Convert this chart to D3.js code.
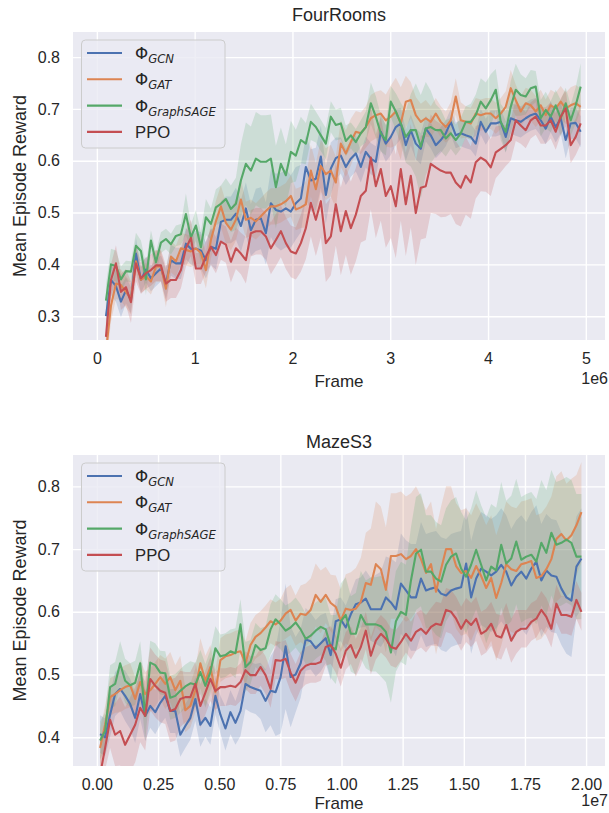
<!DOCTYPE html>
<html>
<head>
<meta charset="utf-8">
<script src="https://cdn.jsdelivr.net/npm/d3@7"></script>
<style>
body { margin: 0; background: #fff; }
svg { display: block; font-family: "Liberation Sans", Arial, sans-serif; }
</style>
</head>
<body>
<svg id="chart" width="609" height="813"></svg>
<script>
var methods = ["GCN", "GAT", "GraphSAGE", "PPO"];
var colors = ["#4c72b0", "#dd8452", "#55a868", "#c44e52"];

// FourRooms: one value every ~51k frames
var fourRoomsStart = 0.093e6, fourRoomsStep = 0.0511e6;
var fourRoomsXTicks = [0, 1e6, 2e6, 3e6, 4e6, 5e6];
var fourRoomsXLabels = ["0", "1", "2", "3", "4", "5"];
var fourRoomsYTicks = [0.3, 0.4, 0.5, 0.6, 0.7, 0.8];

var fourRoomsGCN = [.30,.37,.358,.328,.35,.331,.421,.37,.39,.373,
  .383,.392,.363,.408,.402,.402,.44,.43,.43,.427,
  .408,.434,.43,.482,.486,.486,.498,.474,.508,.466,
  .486,.489,.46,.518,.505,.502,.508,.502,.518,.527,
  .588,.562,.565,.608,.534,.585,.605,.61,.588,.604,
  .614,.588,.617,.604,.598,.656,.633,.646,.665,.672,
  .63,.659,.633,.623,.662,.649,.63,.64,.653,.675,
  .649,.653,.649,.646,.633,.675,.656,.672,.672,.675,
  .646,.682,.678,.675,.682,.688,.691,.678,.662,.685,
  .665,.682,.64,.672,.673,.656];
var fourRoomsGAT = [.23,.32,.363,.36,.347,.334,.406,.37,.377,.367,
  .396,.396,.353,.415,.406,.431,.428,.425,.431,.422,
  .389,.447,.483,.512,.48,.467,.486,.525,.486,.49,
  .483,.493,.503,.512,.512,.516,.522,.532,.506,.51,
  .516,.581,.545,.59,.574,.581,.558,.633,.614,.636,
  .656,.653,.665,.682,.688,.691,.678,.685,.695,.672,
  .714,.717,.688,.675,.682,.675,.691,.675,.665,.678,
  .724,.678,.675,.672,.691,.688,.691,.691,.682,.691,
  .704,.74,.717,.695,.711,.707,.695,.707,.688,.707,
  .701,.714,.701,.707,.711,.704];
var fourRoomsSAGE = [.33,.40,.397,.371,.387,.386,.436,.426,.371,.446,
  .404,.442,.449,.439,.455,.458,.497,.452,.475,.433,
  .491,.478,.51,.517,.526,.507,.517,.562,.594,.581,
  .604,.598,.598,.604,.549,.594,.572,.617,.61,.64,
  .633,.675,.665,.649,.633,.685,.669,.672,.638,.649,
  .636,.653,.665,.711,.685,.653,.64,.714,.695,.672,
  .646,.659,.659,.627,.662,.665,.659,.659,.643,.653,
  .64,.653,.675,.675,.688,.714,.701,.717,.737,.675,
  .656,.704,.737,.727,.724,.74,.743,.682,.698,.685,
  .707,.682,.711,.678,.707,.743];
var fourRoomsPPO = [.26,.37,.402,.347,.356,.327,.402,.373,.383,.389,
  .398,.398,.363,.37,.37,.389,.431,.451,.392,.392,
  .415,.434,.418,.444,.438,.405,.431,.421,.408,.46,
  .464,.464,.454,.431,.447,.464,.441,.425,.421,.441,
  .47,.519,.486,.522,.441,.454,.516,.464,.503,.47,
  .496,.532,.542,.606,.551,.584,.532,.551,.512,.584,
  .516,.571,.499,.548,.551,.594,.587,.581,.577,.577,
  .558,.548,.571,.558,.597,.606,.60,.587,.616,.623,
  .63,.64,.678,.668,.659,.678,.685,.668,.668,.678,
  .656,.685,.701,.63,.646,.672];

var fourRoomsGCNSd = [.03,.03,.03,.03,.025,.025,.03,.025,.025,.025,
  .025,.025,.03,.03,.03,.03,.03,.03,.035,.035,
  .035,.035,.04,.04,.045,.045,.05,.05,.05,.05,
  .06,.06,.06,.065,.07,.075,.075,.07,.07,.065,
  .06,.06,.06,.06,.055,.05,.04,.035,.035,.035,
  .035,.03,.03,.03,.03,.035,.035,.035,.035,.03,
  .03,.03,.03,.03,.025,.025,.025,.025,.025,.025,
  .025,.025,.025,.025,.025,.025,.025,.025,.025,.025,
  .03,.03,.03,.03,.03,.03,.03,.03,.03,.03,
  .03,.03,.035,.03,.03,.03];
var fourRoomsGATSd = [.03,.03,.03,.03,.03,.03,.025,.025,.025,.025,
  .03,.03,.035,.03,.03,.03,.03,.03,.03,.035,
  .035,.035,.04,.04,.04,.04,.04,.04,.035,.035,
  .035,.035,.035,.035,.035,.035,.035,.04,.04,.04,
  .045,.05,.05,.05,.05,.05,.05,.045,.045,.045,
  .04,.04,.04,.045,.045,.045,.05,.06,.065,.07,
  .05,.035,.035,.035,.035,.03,.03,.03,.03,.035,
  .035,.035,.03,.03,.03,.03,.03,.03,.03,.03,
  .03,.035,.03,.03,.03,.03,.03,.03,.03,.03,
  .03,.03,.03,.035,.035,.035];
var fourRoomsSAGESd = [.03,.03,.03,.025,.02,.02,.025,.02,.03,.02,
  .02,.02,.02,.02,.02,.02,.04,.025,.03,.03,
  .035,.03,.035,.035,.04,.045,.05,.07,.08,.085,
  .09,.09,.09,.085,.08,.07,.06,.06,.05,.045,
  .04,.035,.03,.03,.03,.03,.03,.03,.03,.025,
  .025,.025,.03,.04,.04,.035,.03,.03,.035,.04,
  .05,.07,.09,.1,.09,.07,.05,.04,.035,.03,
  .03,.03,.03,.035,.04,.045,.05,.05,.04,.035,
  .04,.05,.05,.04,.035,.035,.03,.035,.035,.03,
  .03,.035,.03,.03,.035,.045];
var fourRoomsPPOSd = [.03,.03,.035,.035,.035,.04,.035,.03,.03,.03,
  .03,.03,.035,.035,.035,.035,.035,.035,.03,.03,
  .03,.035,.035,.035,.035,.04,.04,.04,.045,.045,
  .045,.045,.045,.05,.05,.05,.05,.05,.05,.055,
  .06,.065,.07,.07,.075,.075,.08,.085,.085,.09,
  .09,.09,.095,.1,.1,.1,.1,.1,.1,.1,
  .1,.1,.1,.1,.1,.095,.09,.09,.085,.08,
  .08,.075,.075,.07,.07,.065,.06,.055,.05,.045,
  .04,.04,.04,.035,.035,.035,.035,.035,.035,.035,
  .035,.035,.035,.035,.035,.04];

// MazeS3: one value every ~205k frames
var mazeStart = 0.013e7, mazeStep = 0.0205e7;
var mazeXTicks = [0, 0.25e7, 0.5e7, 0.75e7, 1e7, 1.25e7, 1.5e7, 1.75e7, 2e7];
var mazeXLabels = ["0.00", "0.25", "0.50", "0.75", "1.00", "1.25", "1.50", "1.75", "2.00"];
var mazeYTicks = [0.4, 0.5, 0.6, 0.7, 0.8];

var mazeGCN = [.405,.40,.436,.469,.477,.466,.453,.431,.469,.434,
  .45,.44,.455,.466,.442,.442,.404,.418,.431,.461,
  .42,.431,.418,.466,.436,.414,.44,.423,.442,.485,
  .48,.477,.474,.458,.474,.472,.496,.545,.496,.50,
  .518,.556,.553,.542,.55,.558,.531,.585,.588,.575,
  .596,.612,.615,.621,.604,.604,.604,.623,.615,.604,
  .645,.634,.623,.623,.653,.634,.637,.639,.629,.626,
  .634,.637,.639,.677,.623,.653,.669,.664,.658,.664,
  .675,.664,.642,.656,.664,.653,.669,.68,.65,.666,
  .658,.656,.637,.623,.618,.672,.685];
var mazeGAT = [.383,.42,.464,.469,.475,.48,.483,.461,.488,.469,
  .475,.485,.496,.485,.496,.475,.49,.443,.45,.475,
  .518,.49,.512,.472,.523,.529,.531,.535,.537,.518,
  .547,.56,.566,.575,.585,.58,.586,.597,.603,.586,
  .597,.595,.603,.627,.616,.627,.614,.608,.586,.605,
  .603,.605,.616,.646,.643,.676,.668,.635,.689,.689,
  .692,.684,.689,.70,.684,.662,.676,.632,.668,.70,
  .70,.673,.662,.665,.654,.673,.657,.638,.654,.622,
  .646,.676,.668,.665,.676,.678,.681,.654,.657,.668,
  .684,.716,.724,.714,.722,.738,.759];
var mazeSAGE = [.395,.41,.48,.485,.518,.49,.483,.487,.518,.434,
  .519,.515,.503,.502,.463,.466,.474,.481,.486,.484,
  .504,.482,.504,.542,.529,.531,.537,.534,.58,.512,
  .52,.547,.539,.542,.572,.588,.58,.57,.575,.583,
  .572,.557,.562,.57,.576,.572,.545,.54,.585,.595,
  .565,.565,.595,.58,.58,.58,.577,.568,.535,.585,
  .60,.595,.65,.693,.699,.664,.664,.653,.648,.675,
  .688,.693,.669,.656,.675,.699,.675,.65,.672,.666,
  .707,.677,.685,.712,.683,.688,.691,.68,.71,.694,
  .726,.707,.71,.715,.71,.688,.688];
var mazePPO = [.34,.383,.428,.404,.41,.388,.404,.42,.447,.434,
  .493,.482,.474,.471,.442,.445,.461,.464,.464,.485,
  .45,.471,.493,.474,.48,.48,.482,.48,.488,.507,
  .499,.499,.512,.499,.477,.523,.522,.525,.503,.487,
  .506,.514,.517,.517,.52,.544,.547,.533,.511,.538,
  .547,.527,.544,.57,.53,.554,.565,.557,.544,.541,
  .552,.565,.554,.568,.573,.565,.576,.581,.579,.603,
  .60,.589,.573,.587,.579,.589,.565,.57,.581,.562,
  .559,.579,.554,.568,.573,.573,.584,.589,.603,.592,
  .573,.613,.595,.595,.592,.619,.60];

var mazeGCNSd = [.03,.03,.035,.035,.035,.04,.04,.04,.04,.04,
  .035,.035,.035,.035,.035,.035,.035,.035,.035,.035,
  .035,.03,.03,.03,.03,.035,.035,.035,.04,.04,
  .04,.04,.045,.05,.055,.07,.09,.1,.08,.06,
  .055,.05,.045,.045,.045,.04,.04,.035,.035,.035,
  .035,.04,.04,.045,.05,.055,.06,.065,.07,.075,
  .08,.08,.085,.085,.09,.09,.09,.09,.09,.09,
  .09,.09,.09,.09,.09,.09,.09,.09,.09,.09,
  .09,.09,.09,.09,.09,.09,.09,.09,.09,.09,
  .09,.09,.09,.09,.09,.08,.08];
var mazeGATSd = [.03,.03,.03,.03,.035,.035,.035,.035,.035,.035,
  .035,.035,.035,.04,.04,.04,.04,.035,.035,.035,
  .04,.04,.035,.035,.035,.035,.035,.035,.035,.035,
  .035,.035,.035,.035,.035,.035,.035,.04,.04,.04,
  .045,.05,.05,.05,.05,.045,.045,.05,.05,.055,
  .06,.065,.07,.08,.09,.1,.1,.1,.1,.1,
  .1,.1,.1,.1,.1,.1,.1,.1,.1,.1,
  .1,.1,.1,.1,.1,.1,.1,.1,.1,.1,
  .1,.1,.1,.1,.1,.1,.1,.1,.1,.1,
  .1,.1,.1,.09,.09,.08,.08];
var mazeSAGESd = [.03,.03,.035,.035,.035,.035,.035,.035,.035,.04,
  .035,.035,.035,.035,.035,.035,.035,.035,.035,.035,
  .035,.035,.035,.035,.035,.035,.035,.04,.04,.04,
  .035,.035,.035,.035,.04,.04,.04,.04,.04,.04,
  .04,.04,.045,.045,.045,.05,.05,.055,.06,.06,
  .06,.065,.07,.07,.075,.075,.08,.08,.08,.08,
  .08,.08,.085,.09,.09,.09,.09,.09,.09,.09,
  .09,.09,.09,.09,.09,.095,.095,.1,.1,.1,
  .1,.1,.1,.1,.1,.1,.1,.1,.1,.1,
  .1,.1,.1,.1,.1,.1,.1];
var mazePPOSd = [.03,.035,.045,.05,.055,.06,.06,.06,.055,.055,
  .05,.05,.05,.05,.05,.05,.045,.04,.04,.035,
  .035,.035,.035,.03,.03,.03,.03,.03,.03,.03,
  .03,.03,.03,.03,.03,.03,.03,.03,.03,.03,
  .03,.03,.03,.03,.03,.03,.03,.03,.03,.03,
  .03,.03,.03,.03,.03,.03,.03,.03,.03,.03,
  .03,.03,.03,.03,.03,.03,.03,.035,.035,.035,
  .035,.035,.035,.035,.035,.035,.035,.035,.035,.035,
  .035,.035,.035,.035,.03,.03,.03,.03,.03,.03,
  .03,.03,.03,.03,.03,.03,.03];

var panels = [
  { title: "FourRooms", top: 32, bottom: 340, titleY: 21, offset: "1e6",
    xDomain: [-0.244e6, 5.196e6], yDomain: [0.2541, 0.8484],
    xTicks: fourRoomsXTicks, xLabels: fourRoomsXLabels, yTicks: fourRoomsYTicks,
    start: fourRoomsStart, step: fourRoomsStep,
    means: [fourRoomsGCN, fourRoomsGAT, fourRoomsSAGE, fourRoomsPPO],
    sds: [fourRoomsGCNSd, fourRoomsGATSd, fourRoomsSAGESd, fourRoomsPPOSd] },
  { title: "MazeS3", top: 455, bottom: 766, titleY: 448, offset: "1e7",
    xDomain: [-0.0977e7, 2.0773e7], yDomain: [0.3542, 0.85],
    xTicks: mazeXTicks, xLabels: mazeXLabels, yTicks: mazeYTicks,
    start: mazeStart, step: mazeStep,
    means: [mazeGCN, mazeGAT, mazeSAGE, mazePPO],
    sds: [mazeGCNSd, mazeGATSd, mazeSAGESd, mazePPOSd] }
];

var svg = d3.select("#chart");
var left = 73, right = 605;
var textColor = "#262626";

panels.forEach(function (p, pi) {
  var x = d3.scaleLinear().domain(p.xDomain).range([left, right]);
  var y = d3.scaleLinear().domain(p.yDomain).range([p.bottom, p.top]);
  var h = p.bottom - p.top;
  var g = svg.append("g");

  g.append("rect")
    .attr("x", left).attr("y", p.top)
    .attr("width", right - left).attr("height", h)
    .attr("fill", "#eaeaf2");

  // grid
  var gx = g.append("g").attr("transform", "translate(0," + p.bottom + ")")
    .call(d3.axisBottom(x).tickValues(p.xTicks).tickSize(-h).tickFormat(""));
  var gy = g.append("g").attr("transform", "translate(" + left + ",0)")
    .call(d3.axisLeft(y).tickValues(p.yTicks).tickSize(-(right - left)).tickFormat(""));
  [gx, gy].forEach(function (a) {
    a.select(".domain").remove();
    a.selectAll("line").attr("stroke", "#fff").attr("stroke-width", 1.4);
  });

  // tick labels
  var lx = g.append("g").attr("transform", "translate(0," + p.bottom + ")")
    .call(d3.axisBottom(x).tickValues(p.xTicks).tickSize(0).tickPadding(12.5)
      .tickFormat(function (d, i) { return p.xLabels[i]; }));
  var ly = g.append("g").attr("transform", "translate(" + left + ",0)")
    .call(d3.axisLeft(y).tickValues(p.yTicks).tickSize(0).tickPadding(13)
      .tickFormat(d3.format(".1f")));
  [lx, ly].forEach(function (a) {
    a.select(".domain").remove();
    a.attr("font-family", null).attr("font-size", null);
    a.selectAll("text").attr("fill", textColor).style("font-size", "16px");
  });

  // series
  svg.append("clipPath").attr("id", "clip" + pi).append("rect")
    .attr("x", left).attr("y", p.top).attr("width", right - left).attr("height", h);
  var plot = g.append("g").attr("clip-path", "url(#clip" + pi + ")");
  var frameAt = function (k) { return p.start + k * p.step; };

  p.means.forEach(function (m, s) {
    var sd = p.sds[s];
    var area = d3.area()
      .x(function (d, k) { return x(frameAt(k)); })
      .y0(function (d, k) { return y(d - sd[k]); })
      .y1(function (d, k) { return y(d + sd[k]); });
    plot.append("path").datum(m).attr("d", area)
      .attr("fill", colors[s]).attr("fill-opacity", 0.2);
  });
  p.means.forEach(function (m, s) {
    var line = d3.line()
      .x(function (d, k) { return x(frameAt(k)); })
      .y(function (d) { return y(d); });
    plot.append("path").datum(m).attr("d", line)
      .attr("fill", "none").attr("stroke", colors[s])
      .attr("stroke-width", 2.1).attr("stroke-linejoin", "round");
  });

  // labels
  g.append("text").attr("x", (left + right) / 2).attr("y", p.titleY)
    .attr("text-anchor", "middle").attr("fill", textColor)
    .style("font-size", "18px").text(p.title);
  g.append("text").attr("x", (left + right) / 2).attr("y", Math.min(p.bottom + 47, 809.3))
    .attr("text-anchor", "middle").attr("fill", textColor)
    .style("font-size", "17px").text("Frame");
  g.append("text").attr("x", 608).attr("y", Math.min(p.bottom + 44, 806))
    .attr("text-anchor", "end").attr("fill", textColor)
    .style("font-size", "16px").text(p.offset);
  g.append("text")
    .attr("transform", "translate(26," + (p.top + h / 2) + ") rotate(-90)")
    .attr("text-anchor", "middle").attr("fill", textColor)
    .style("font-size", "18px").text("Mean Episode Reward");

  // legend
  var lg = g.append("g").attr("transform", "translate(81.5," + (p.top + 8) + ")");
  lg.append("rect").attr("width", 143.5).attr("height", 108).attr("rx", 4)
    .attr("fill", "#eaeaf2").attr("fill-opacity", 0.8)
    .attr("stroke", "#cccccc").attr("stroke-width", 1);
  methods.forEach(function (name, s) {
    var cy = 13 + s * 26.3;
    lg.append("line").attr("x1", 5.5).attr("x2", 40.5).attr("y1", cy).attr("y2", cy)
      .attr("stroke", colors[s]).attr("stroke-width", 2.1);
    var t = lg.append("text").attr("x", 53.5).attr("y", cy + 6)
      .attr("fill", textColor).style("font-size", "16.7px");
    if (name === "PPO") {
      t.text("PPO");
    } else {
      t.append("tspan").style("font-family", "'DejaVu Sans'").text("\u03A6");
      t.append("tspan").attr("dy", 4).style("font-style", "italic")
        .style("font-family", "'DejaVu Sans'").style("font-size", "11.7px").text(name);
    }
  });
});
</script>
</body>
</html>
